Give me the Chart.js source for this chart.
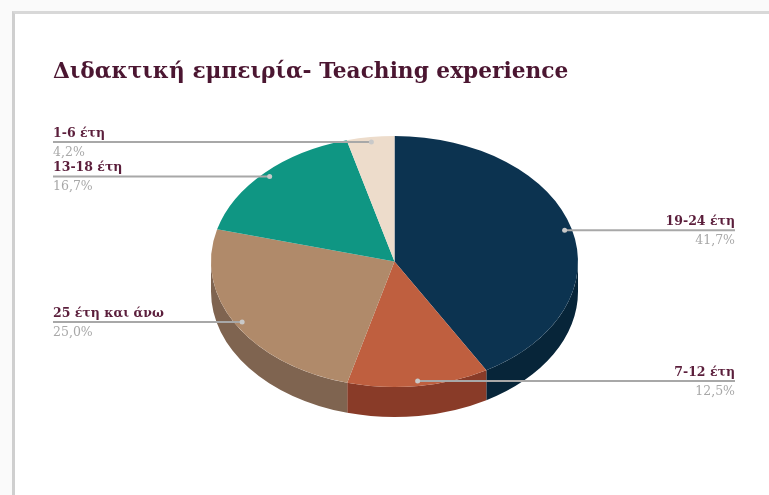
<!DOCTYPE html>
<html>
<head>
<meta charset="utf-8">
<script src="https://cdn.jsdelivr.net/npm/chart.js@4.4.1/dist/chart.umd.min.js"></script>
<style>
  html, body { margin: 0; padding: 0; background: #fafafa; }
  #wrap { position: relative; width: 769px; height: 495px; overflow: hidden; }
  #frame {
    position: absolute; left: 12px; top: 11px; width: 800px; height: 520px;
    background: #fff;
    border-left: 3px solid #cfcfcf; border-top: 3px solid #d8d8d8;
  }
  #myChart { position: absolute; left: 0; top: 0; }
</style>
</head>
<body>
<div id="wrap">
  <div id="frame"></div>
  <canvas id="myChart" width="769" height="495"></canvas>
</div>
<script>
// data (clockwise from 12 o'clock)
const categories = ["19-24 έτη", "7-12 έτη", "25 έτη και άνω", "13-18 έτη", "1-6 έτη"];
const shares = [41.7, 12.5, 25.0, 16.7, 4.2];
const chartTitle = "Διδακτική εμπειρία- Teaching experience";

// styles
const topColors = ["#0c3350", "#bf5f3f", "#b08a6a", "#0f9683", "#eddccb"];
const sideColors = ["#072539", "#893b28", "#7f6450", "#0a6d5f", "#b9a896"];
const squash = 0.684; // vertical squash of the tilted pie
const depth = 30;     // thickness of the pie side

const fmt = (v) => v.toFixed(1).replace(".", ",") + "%";

const pie3d = {
  id: "pie3d",
  beforeDatasetsDraw(chart) {
    const ctx = chart.ctx;
    const arcs = chart.getDatasetMeta(0).data;
    // side band, only the front half (0..PI) is visible
    arcs.forEach((arc, i) => {
      const a1 = Math.max(arc.startAngle, 0);
      const a2 = Math.min(arc.endAngle, Math.PI);
      if (a2 <= a1) return;
      const r = arc.outerRadius;
      ctx.save();
      ctx.fillStyle = sideColors[i];
      ctx.beginPath();
      ctx.ellipse(arc.x, arc.y, r, r * squash, 0, a1, a2, false);
      ctx.ellipse(arc.x, arc.y + depth, r, r * squash, 0, a2, a1, true);
      ctx.closePath();
      ctx.fill();
      ctx.restore();
    });
    const c = arcs[0];
    ctx.save();
    ctx.translate(c.x, c.y);
    ctx.scale(1, squash);
    ctx.translate(-c.x, -c.y);
  },
  afterDatasetsDraw(chart) {
    chart.ctx.restore();
  },
  afterDraw(chart) {
    const ctx = chart.ctx;
    const arcs = chart.getDatasetMeta(0).data;
    ctx.save();
    // title
    ctx.fillStyle = "#4b1631";
    ctx.font = "bold 21.7px 'DejaVu Serif'";
    ctx.textBaseline = "alphabetic";
    ctx.textAlign = "left";
    ctx.fillText(chartTitle, 53, 78);

    arcs.forEach((arc, i) => {
      const mid = (arc.startAngle + arc.endAngle) / 2;
      const r = arc.outerRadius * 0.96;
      const px = arc.x + Math.cos(mid) * r;
      const py = arc.y + Math.sin(mid) * r * squash;
      const right = px > arc.x;
      const x0 = right ? px : 53;
      const x1 = right ? 735 : px;

      ctx.strokeStyle = "#a8a8a8";
      ctx.lineWidth = 2;
      ctx.beginPath();
      ctx.moveTo(x0, py);
      ctx.lineTo(x1, py);
      ctx.stroke();

      ctx.fillStyle = "#c9c9c9";
      ctx.beginPath();
      ctx.arc(px, py, 2.5, 0, Math.PI * 2);
      ctx.fill();

      ctx.textAlign = right ? "right" : "left";
      const tx = right ? 735 : 53;
      ctx.fillStyle = "#5b1e3b";
      ctx.font = "bold 12.5px 'DejaVu Serif'";
      ctx.fillText(categories[i], tx, py - 5);
      ctx.fillStyle = "#a8a8a8";
      ctx.font = "12.5px 'DejaVu Serif'";
      ctx.fillText(fmt(shares[i]), tx, py + 14);
    });
    ctx.restore();
  }
};

new Chart("myChart", {
  type: "pie",
  data: {
    labels: categories,
    datasets: [
      {
        data: shares,
        backgroundColor: topColors,
        borderWidth: 0,
      },
    ],
  },
  options: {
    responsive: false,
    animation: false,
    events: [],
    layout: { padding: { left: 211, right: 191, top: 78, bottom: 50 } },
    plugins: {
      legend: { display: false },
      title: { display: false },
      tooltip: { enabled: false },
    },
  },
  plugins: [pie3d],
});
</script>
</body>
</html>
